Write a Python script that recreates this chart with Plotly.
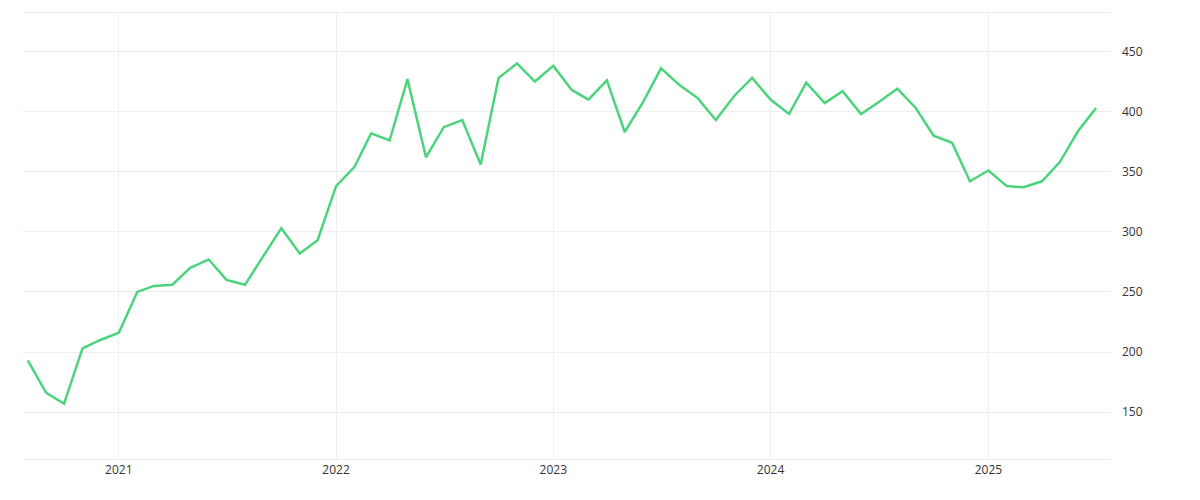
import plotly.graph_objects as go
import pandas as pd

months = pd.date_range("2020-08-01", "2025-07-01", freq="MS")
values = [193, 166, 157, 203, 210, 216, 250, 255, 256, 270, 277, 260,
          256, 280, 303, 282, 293, 338, 354, 382, 376, 427, 362, 387,
          393, 356, 428, 440, 425, 438, 418, 410, 426, 383, 408, 436,
          422, 411, 393, 413, 428, 410, 398, 424, 407, 417, 398, 408,
          419, 403, 380, 374, 342, 351, 338, 337, 342, 358, 384, 403]

fig = go.Figure(go.Scatter(
    x=months, y=values, mode="lines",
    line=dict(color="#4cd47c", width=2.5),
    hoverinfo="x+y", showlegend=False,
))

fig.update_layout(
    width=1200, height=500,
    paper_bgcolor="white", plot_bgcolor="white",
    margin=dict(l=15, r=97, t=5, b=49),
    font=dict(family="Open Sans", size=12, color="#333"),
)
fig.update_xaxes(
    range=["2020-07-24", "2025-07-26"],
    showgrid=True, gridcolor="#eeeeee", zeroline=False,
    tickvals=pd.to_datetime(["2021-01-01", "2022-01-01", "2023-01-01", "2024-01-01", "2025-01-01"]),
    ticktext=["2021", "2022", "2023", "2024", "2025"],
    showline=True, linecolor="#eeeeee", mirror=True,
)
fig.update_yaxes(
    range=[111, 482], side="right",
    tickvals=[150, 200, 250, 300, 350, 400, 450],
    showgrid=True, gridcolor="#eeeeee", zeroline=False,
    ticklabelstandoff=10,
)

fig.write_html("out.html")
